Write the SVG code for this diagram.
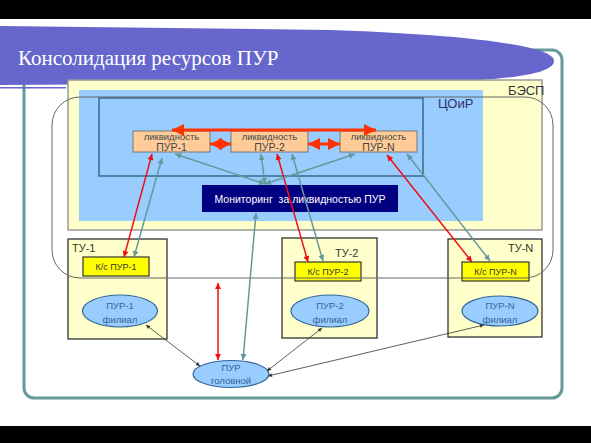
<svg xmlns="http://www.w3.org/2000/svg" width="591" height="443" viewBox="0 0 591 443">
<style>
text{font-family:"Liberation Sans",Arial,sans-serif}
.lbl{fill:#333;font-size:11px}
.liq{fill:#ffcc99;stroke:#777;stroke-width:1}
.liqt{fill:#444;font-size:9.5px;text-anchor:middle}
.kc{fill:#ffff00;stroke:#333;stroke-width:1.2}
.kct{fill:#333;font-size:9px;text-anchor:middle}
.tu{fill:#ffffcc;stroke:#333;stroke-width:1.3}
.ell{fill:#99ccff;stroke:#336699;stroke-width:1.2}
.ellt{fill:#336699;font-size:9.5px;text-anchor:middle}
.red{stroke:#ee1111;stroke-width:1.5;fill:none;marker-start:url(#mr);marker-end:url(#mr)}
.teal{stroke:#669999;stroke-width:1.5;fill:none;marker-start:url(#mt);marker-end:url(#mt)}
.blk{stroke:#333;stroke-width:0.8;fill:none;marker-start:url(#mb);marker-end:url(#mb)}
.thick{stroke:#ff3300;stroke-width:3;fill:none;marker-start:url(#mo);marker-end:url(#mo)}
</style>
<defs>
<marker id="mr" viewBox="0 0 10 10" refX="10" refY="5" markerWidth="7" markerHeight="6" markerUnits="userSpaceOnUse" orient="auto-start-reverse"><path d="M0,0L10,5L0,10z" fill="#ee1111"/></marker>
<marker id="mt" viewBox="0 0 10 10" refX="10" refY="5" markerWidth="7" markerHeight="6" markerUnits="userSpaceOnUse" orient="auto-start-reverse"><path d="M0,0L10,5L0,10z" fill="#669999"/></marker>
<marker id="mb" viewBox="0 0 10 10" refX="10" refY="5" markerWidth="5" markerHeight="4" markerUnits="userSpaceOnUse" orient="auto-start-reverse"><path d="M0,0L10,5L0,10z" fill="#333"/></marker>
<marker id="mo" viewBox="0 0 10 10" refX="10" refY="5" markerWidth="12" markerHeight="12" markerUnits="userSpaceOnUse" orient="auto-start-reverse"><path d="M0,0L10,5L0,10z" fill="#ff3300"/></marker>
</defs>
<rect x="0" y="0" width="591" height="443" fill="#fff"/>
<rect x="0" y="0" width="591" height="19" fill="#000"/>
<rect x="0" y="426" width="591" height="17" fill="#000"/>
<g id="frame">
<rect x="24" y="50" width="538" height="348" rx="10" fill="#fff" stroke="#669999" stroke-width="3"/>
</g>
<g id="banner">
<path d="M0,26 L330,30 C450,34 554,44 554,61 C554,75 500,80 440,82 L0,85 Z" fill="#6666cc"/>
<rect x="0" y="87" width="66" height="1.5" fill="#6666cc"/>
<text x="18" y="65" font-size="21" fill="#fff" style="font-family:'Liberation Serif','Times New Roman',serif">Консолидация ресурсов ПУР</text>
</g>
<g id="besp">
<rect x="68" y="80" width="474" height="150" fill="#ffffcc" stroke="#999" stroke-width="1.5"/>
<text x="508" y="95" style="font-size:13px;fill:#333">БЭСП</text>
</g>
<g id="coir">
<rect x="79" y="90" width="404" height="131" fill="#99ccff"/>
<rect x="99" y="98" width="324" height="78" fill="none" stroke="#3d6a8a" stroke-width="1.5"/>
<text x="438" y="108" style="font-size:13px;fill:#333366">ЦОиР</text>
</g>
<g id="tu1"><rect class="tu" x="68" y="239" width="99" height="100"/><text class="lbl" x="72" y="252">ТУ-1</text></g>
<g id="tu2"><rect class="tu" x="282" y="238" width="95" height="100"/><text class="lbl" x="335" y="257">ТУ-2</text></g>
<g id="tuN"><rect class="tu" x="448" y="239" width="94" height="98"/><text class="lbl" x="508" y="252">ТУ-N</text></g>
<g id="liq1"><rect class="liq" x="133" y="131" width="77" height="21"/><text class="liqt" x="171.5" y="140">ликвидность</text><text class="liqt" x="171.5" y="151" style="font-size:10.5px">ПУР-1</text></g>
<g id="liq2"><rect class="liq" x="231" y="131" width="77" height="21"/><text class="liqt" x="269.5" y="140">ликвидность</text><text class="liqt" x="269.5" y="151" style="font-size:10.5px">ПУР-2</text></g>
<g id="liqN"><rect class="liq" x="340" y="131" width="77" height="21"/><text class="liqt" x="378.5" y="140">ликвидность</text><text class="liqt" x="378.5" y="151" style="font-size:10.5px">ПУР-N</text></g>
<g id="monitor"><rect x="202" y="185" width="196" height="27" fill="#000080"/><text x="300" y="203" xml:space="preserve" style="fill:#fff;font-size:10.5px;text-anchor:middle">Мониторинг  за ликвидностью ПУР</text></g>
<g id="kc1"><rect class="kc" x="83" y="257" width="66" height="19"/><text class="kct" x="116" y="270">К/с ПУР-1</text></g>
<g id="kc2"><rect class="kc" x="295" y="262" width="66" height="19"/><text class="kct" x="328" y="275">К/с ПУР-2</text></g>
<g id="kcN"><rect class="kc" x="462" y="262" width="67" height="19"/><text class="kct" x="495.5" y="275">К/с ПУР-N</text></g>
<g id="pur1"><ellipse class="ell" cx="120" cy="311" rx="37.5" ry="16"/><text class="ellt" x="120" y="309">ПУР-1</text><text class="ellt" x="120" y="323">филиал</text></g>
<g id="pur2"><ellipse class="ell" cx="330" cy="311" rx="39" ry="16"/><text class="ellt" x="330" y="309">ПУР-2</text><text class="ellt" x="330" y="323">филиал</text></g>
<g id="purN"><ellipse class="ell" cx="500" cy="311" rx="38" ry="15"/><text class="ellt" x="500" y="309">ПУР-N</text><text class="ellt" x="500" y="323">филиал</text></g>
<g id="head"><ellipse class="ell" cx="231" cy="374" rx="38" ry="13.5"/><text class="ellt" x="231" y="371">ПУР</text><text class="ellt" x="231" y="384">головной</text></g>
<g id="outline">
<rect x="52" y="97" width="501" height="181" rx="28" fill="none" stroke="#666" stroke-width="1"/>
</g>
<g id="connectors">
<line class="thick" x1="172" y1="130" x2="376" y2="130"/>
<line class="thick" x1="210" y1="144" x2="231" y2="144"/>
<line class="thick" x1="308" y1="144" x2="340" y2="144"/>
<line class="red" x1="124" y1="257" x2="152" y2="154"/>
<line class="red" x1="308" y1="262" x2="277" y2="154"/>
<line class="red" x1="472" y1="262" x2="387" y2="155"/>
<line class="red" x1="218" y1="283" x2="218" y2="360"/>
<line class="teal" x1="134" y1="257" x2="162" y2="158"/>
<line class="teal" x1="265" y1="184" x2="175" y2="154"/>
<line class="teal" x1="265" y1="184" x2="261" y2="154"/>
<line class="teal" x1="265" y1="184" x2="355" y2="154"/>
<line class="teal" x1="323" y1="261" x2="292" y2="154"/>
<line class="teal" x1="490" y1="261" x2="407" y2="154"/>
<line class="teal" x1="243" y1="360" x2="256" y2="213"/>
<line class="blk" x1="146" y1="325" x2="200" y2="366"/>
<line class="blk" x1="322" y1="328" x2="267" y2="371"/>
<line class="blk" x1="484" y1="325" x2="268" y2="376"/>
</g>
</svg>
